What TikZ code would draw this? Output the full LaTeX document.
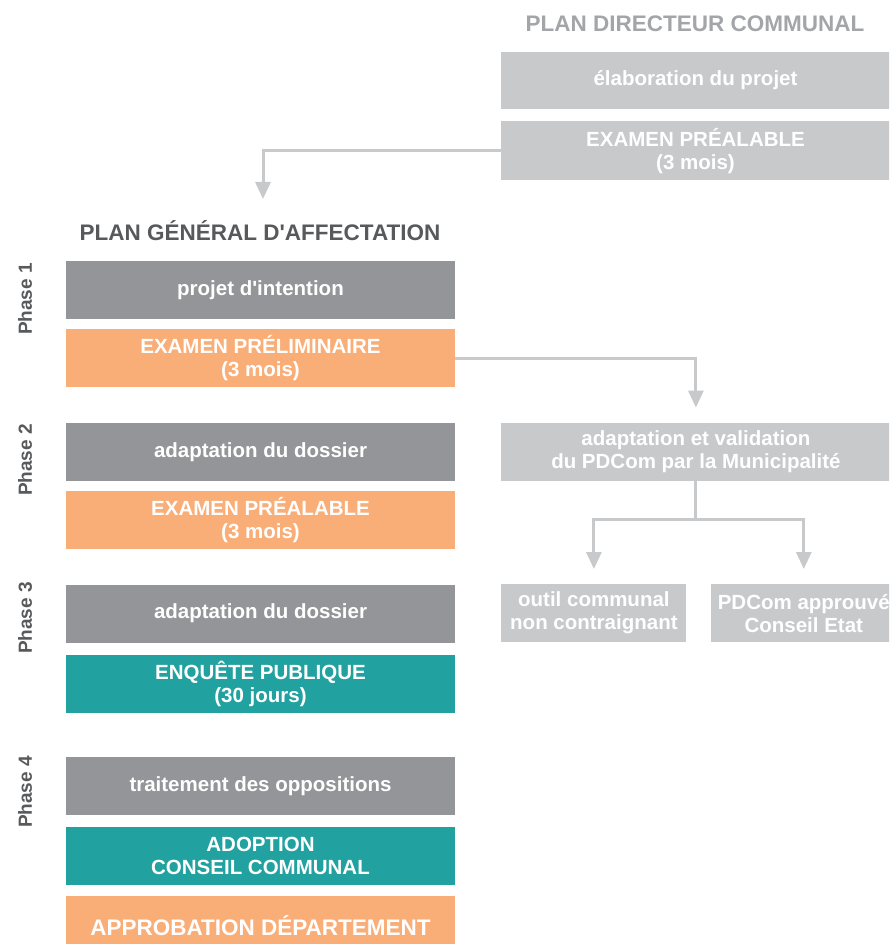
\documentclass[tikz,border=0pt]{standalone}
\usepackage{fontspec}
\setmainfont{Liberation Sans}
\usetikzlibrary{positioning,arrows.meta}

\definecolor{stepgray}{HTML}{939598}
\definecolor{examorange}{HTML}{F9AE78}
\definecolor{publicteal}{HTML}{21A19F}
\definecolor{pdcgray}{HTML}{C8C9CB}
\definecolor{labelgray}{HTML}{58595B}
\definecolor{headgray}{HTML}{A4A5A8}

\tikzstyle{box} = [rectangle, minimum width=389pt, minimum height=58pt, inner sep=0pt, align=center, text=white, font=\fontsize{20.5}{23}\selectfont\bfseries]
\tikzstyle{work} = [box, fill=stepgray]
\tikzstyle{exam} = [box, fill=examorange]
\tikzstyle{decision} = [box, fill=publicteal]
\tikzstyle{pdc} = [box, fill=pdcgray]
\tikzstyle{phase} = [rotate=90, text=labelgray, font=\fontsize{19}{19}\selectfont\bfseries]
\tikzstyle{heading} = [font=\fontsize{22.5}{24}\selectfont\bfseries]
\tikzstyle{link} = [line width=3pt, draw=pdcgray]
\tikzstyle{arrow} = [link, -{Triangle[width=15pt,length=17pt]}]

\begin{document}
\begin{tikzpicture}[x=1pt, y=-1pt]
	\clip (0,0) rectangle (889,944);
	% Plan general d'affectation
	\node [heading, text=labelgray] (PGA) at (260,231) {PLAN GÉNÉRAL D\textquotesingle AFFECTATION};
	\node [work] (ProjetIntention) at (260.5,290) {projet d\textquotesingle intention};
	\node [exam, below=10pt of ProjetIntention] (ExamenPreliminaire) {EXAMEN PRÉLIMINAIRE\\(3 mois)};
	\node [work, below=35pt of ExamenPreliminaire] (AdaptationA) {adaptation du dossier};
	\node [exam, below=10pt of AdaptationA] (ExamenPrealable) {EXAMEN PRÉALABLE\\(3 mois)};
	\node [work, below=35pt of ExamenPrealable] (AdaptationB) {adaptation du dossier};
	\node [decision, below=12pt of AdaptationB] (Enquete) {ENQUÊTE PUBLIQUE\\(30 jours)};
	\node [work, below=44pt of Enquete] (Oppositions) {traitement des oppositions};
	\node [decision, below=11pt of Oppositions] (Adoption) {ADOPTION\\CONSEIL COMMUNAL};
	\node [exam, below=11pt of Adoption, font=\fontsize{22.5}{24}\selectfont\bfseries] (Approbation) {APPROBATION DÉPARTEMENT};
	% Phases
	\node [phase] (Phase1) at (25,299) {Phase 1};
	\node [phase] (Phase2) at (25,460) {Phase 2};
	\node [phase] (Phase3) at (25,618) {Phase 3};
	\node [phase] (Phase4) at (25,792) {Phase 4};
	% Plan directeur communal
	\node [heading, text=headgray] (PDC) at (695,24) {PLAN DIRECTEUR COMMUNAL};
	\node [pdc, minimum height=57pt] (Elaboration) at (695.5,80.5) {élaboration du projet};
	\node [pdc, minimum height=59pt, below=12pt of Elaboration] (ExamenPDC) {EXAMEN PRÉALABLE\\(3 mois)};
	\node [pdc, right=46pt of AdaptationA] (Validation) {adaptation et validation\\du PDCom par la Municipalité};
	\node [pdc, minimum width=185pt, below right=103pt and 0pt of Validation.south west] (Outil) {outil communal\\non contraignant};
	\node [pdc, minimum width=186pt, right=24pt of Outil] (Approuve) {PDCom approuvé\\Conseil Etat};
	% Draw edges
	\coordinate (PGAin) at (263,199);
	\draw [arrow] (ExamenPDC.west) -| (PGAin);
	\draw [arrow, shorten >=15pt] (ExamenPreliminaire.east) -| (Validation.north);
	\draw [link] (Validation.south) -- ++(0,38) coordinate (Split);
	\draw [arrow, shorten >=15pt] (Split) -| (Outil.north);
	\draw [arrow, shorten >=15pt] (Split) -| (Approuve.north);
\end{tikzpicture}
\end{document}
